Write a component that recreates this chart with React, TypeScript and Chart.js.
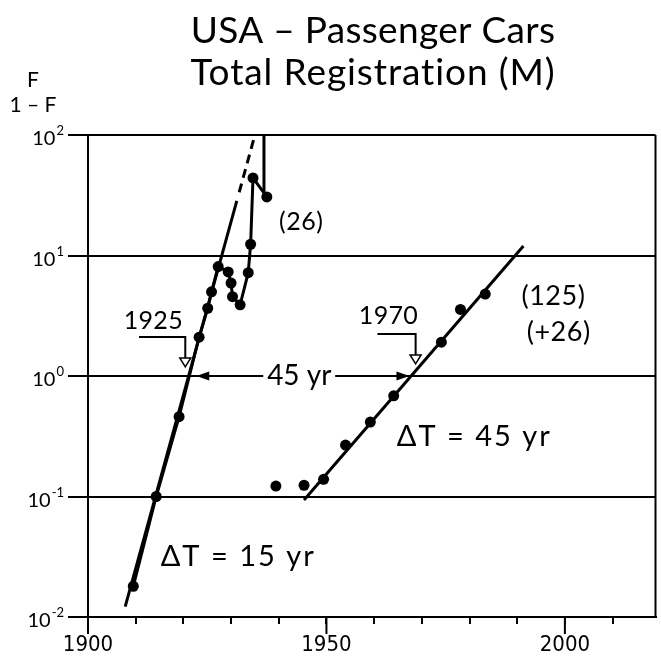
import React, { useEffect, useRef } from "react";
import { Chart, registerables } from "chart.js";

Chart.register(...registerables);

// ---------- data ----------
const titleLines = ["USA – Passenger Cars", "Total Registration (M)"];
const yTitleTop = "F";
const yTitleBottom = "1 – F";

// 1st pulse: F/(1-F) observations
const leftYears = [1909.5, 1914.3, 1919.1, 1923.3, 1925.1, 1925.9, 1927.3, 1929.4, 1930.0, 1930.3, 1931.9, 1933.6, 1934.1, 1934.6, 1937.5];
const leftRatio = [0.018, 0.1, 0.46, 2.1, 3.65, 5.0, 8.1, 7.3, 5.9, 4.55, 3.9, 7.2, 12.4, 44, 30.6];
// 2nd pulse observations
const rightYears = [1939.4, 1945.3, 1949.4, 1954.0, 1959.2, 1964.1, 1974.1, 1978.1, 1983.3];
const rightRatio = [0.122, 0.124, 0.139, 0.267, 0.415, 0.685, 1.91, 3.57, 4.79];

// fitted logistic lines
const fitLeftYears = [1907.8, 1931.2];
const fitLeftRatio = [0.0122, 28.4];
const fitLeftDashYears = [1931.7, 1935.0];
const fitLeftDashRatio = [33.5, 100];
const fitRightYears = [1945.3, 1991.3];
const fitRightRatio = [0.0935, 12.0];
// overshoot beyond saturation
const overshootYears = [1936.9, 1936.9];
const overshootRatio = [100, 33];

// axes
const xMin = 1900;
const xMax = 2019;
const xTickYears = [1900, 1910, 1920, 1930, 1940, 1950, 1960, 1970, 1980, 1990, 2000, 2010];
const xLabelYears = [1900, 1950, 2000];
const yTickValues = [0.01, 0.1, 1, 10, 100];
const yTickExponents = ["-2", "-1", "0", "1", "2"];

// annotations
const labelTexts = ["(26)", "1925", "1970", "(125)", "(+26)", "ΔT = 45 yr", "ΔT = 15 yr"];
const labelYears = [1944.7, 1913.7, 1963.0, 1997.6, 1998.7, 1981.0, 1931.5];
const labelRatios = [19.0, 2.86, 3.15, 4.61, 2.32, 0.312, 0.0315];
const labelSizes = [25, 25, 25, 27, 27, 29, 29];
const labelSpacing = [0.5, 0.3, 0.3, 0.5, 0.5, 2, 2];

const spanText = "45 yr";
const spanYears = [1922.7, 1967.4];
const spanTextYear = 1944.3;
const spanRatio = 1;

const bracketStartYears = [1910.7, 1960.7];
const bracketEndYears = [1920.4, 1968.7];
const bracketTopRatios = [2.11, 2.23];
const bracketTipRatios = [1.19, 1.26];

// ---------- helpers ----------
const SANS = "Lato, 'Open Sans', sans-serif";
const NARROW = "'Liberation Sans Narrow', 'DejaVu Sans Condensed', 'Liberation Sans', sans-serif";

const toPoints = (xs: number[], ys: number[]) => xs.map((x, i) => ({ x, y: ys[i] }));

const annotPlugin = {
  id: "annot",
  beforeDraw(chart: any) {
    const ctx = chart.ctx;
    ctx.save();
    ctx.fillStyle = "#fff";
    ctx.fillRect(0, 0, chart.width, chart.height);
    ctx.restore();
  },
  afterDatasetsDraw(chart: any) {
    const ctx: any = chart.ctx;
    const xs = chart.scales.x;
    const ys = chart.scales.y;
    const area = chart.chartArea;
    const px = (v: number) => xs.getPixelForValue(v);
    const py = (v: number) => ys.getPixelForValue(v);
    ctx.save();
    ctx.fillStyle = "#000";
    ctx.strokeStyle = "#000";

    // right border
    ctx.lineWidth = 2;
    ctx.beginPath();
    ctx.moveTo(area.right, area.top);
    ctx.lineTo(area.right, area.bottom);
    ctx.stroke();

    // long major x ticks
    xLabelYears.forEach((yr) => {
      const x = px(yr);
      ctx.beginPath();
      ctx.moveTo(x, area.bottom);
      ctx.lineTo(x, area.bottom + 17);
      ctx.stroke();
    });

    // y tick labels 10^n
    const labRight = ys.right - 24;
    ys.ticks.forEach((t: any, i: number) => {
      const y = py(t.value);
      const exp = yTickExponents[i];
      ctx.font = `13px ${SANS}`;
      const ew = ctx.measureText(exp).width;
      ctx.textBaseline = "middle";
      ctx.textAlign = "left";
      ctx.fillText(exp, labRight - ew, y - 4);
      ctx.font = `20px ${SANS}`;
      ctx.textAlign = "right";
      ctx.fillText("10", labRight - ew - 1, y + 4);
    });

    // y title F / 1-F
    ctx.textAlign = "center";
    ctx.textBaseline = "middle";
    ctx.font = `21px ${SANS}`;
    ctx.fillText(yTitleTop, 33, 80);
    ctx.fillText(yTitleBottom, 33, 105);

    // title
    ctx.font = `37px ${SANS}`;
    ctx.textBaseline = "alphabetic";
    ctx.letterSpacing = "0.3px";
    ctx.fillText(titleLines[0], 373, 43);
    ctx.letterSpacing = "0.9px";
    ctx.fillText(titleLines[1], 373, 85);

    // labels
    ctx.textBaseline = "middle";
    labelTexts.forEach((s, i) => {
      ctx.font = `${labelSizes[i]}px ${SANS}`;
      ctx.letterSpacing = `${labelSpacing[i]}px`;
      ctx.fillText(s, px(labelYears[i]), py(labelRatios[i]));
    });
    ctx.letterSpacing = "0px";

    // 45 yr span arrow
    const ay = py(spanRatio);
    const x1 = px(spanYears[0]);
    const x2 = px(spanYears[1]);
    ctx.font = `28px ${SANS}`;
    const tw = ctx.measureText(spanText).width;
    const tx = px(spanTextYear);
    ctx.fillStyle = "#fff";
    ctx.fillRect(tx - tw / 2 - 4, ay - 14, tw + 8, 28);
    ctx.fillStyle = "#000";
    ctx.lineWidth = 2;
    ctx.beginPath();
    ctx.moveTo(x1, ay);
    ctx.lineTo(tx - tw / 2 - 4, ay);
    ctx.moveTo(tx + tw / 2 + 4, ay);
    ctx.lineTo(x2, ay);
    ctx.stroke();
    ctx.fillText(spanText, tx, ay);
    const head = (tipX: number, dir: number) => {
      ctx.beginPath();
      ctx.moveTo(tipX, ay);
      ctx.lineTo(tipX + dir * 13, ay - 4.5);
      ctx.lineTo(tipX + dir * 13, ay + 4.5);
      ctx.closePath();
      ctx.fill();
    };
    head(x1, 1);
    head(x2, -1);

    // brackets with open triangles
    bracketStartYears.forEach((_, i) => {
      const bx1 = px(bracketStartYears[i]);
      const bx2 = px(bracketEndYears[i]);
      const by = py(bracketTopRatios[i]);
      const tip = py(bracketTipRatios[i]);
      ctx.lineWidth = 2;
      ctx.beginPath();
      ctx.moveTo(bx1, by);
      ctx.lineTo(bx2, by);
      ctx.lineTo(bx2, tip - 9);
      ctx.stroke();
      ctx.beginPath();
      ctx.moveTo(bx2 - 5.5, tip - 9);
      ctx.lineTo(bx2 + 5.5, tip - 9);
      ctx.lineTo(bx2, tip);
      ctx.closePath();
      ctx.fillStyle = "#fff";
      ctx.fill();
      ctx.lineWidth = 1.5;
      ctx.stroke();
      ctx.fillStyle = "#000";
    });

    ctx.restore();
  },
};

export default function App() {
  const ref = useRef<HTMLCanvasElement>(null);
  useEffect(() => {
    document.body.style.margin = "0";
    const lineDs = (data: any[], extra: any = {}) => ({
      data,
      showLine: true,
      borderColor: "#000",
      borderWidth: 3,
      pointRadius: 0,
      fill: false,
      ...extra,
    });
    const chart = new Chart(ref.current as HTMLCanvasElement, {
      type: "scatter",
      data: {
        datasets: [
          lineDs(toPoints(fitLeftYears, fitLeftRatio)),
          lineDs(toPoints(fitLeftDashYears, fitLeftDashRatio), { borderDash: [9, 6] }),
          lineDs(toPoints(fitRightYears, fitRightRatio)),
          lineDs(toPoints(overshootYears, overshootRatio)),
          {
            data: toPoints(leftYears, leftRatio),
            showLine: true,
            borderColor: "#000",
            borderWidth: 3,
            pointRadius: 5.5,
            pointBackgroundColor: "#000",
            pointBorderWidth: 0,
          },
          {
            data: toPoints(rightYears, rightRatio),
            showLine: false,
            pointRadius: 5.5,
            pointBackgroundColor: "#000",
            pointBorderWidth: 0,
          },
        ],
      },
      options: {
        responsive: false,
        animation: false,
        devicePixelRatio: 1,
        layout: { padding: { top: 135, right: 4, left: 0, bottom: 0 } },
        plugins: {
          legend: { display: false },
          tooltip: { enabled: false },
          title: { display: false },
        },
        events: [],
        scales: {
          x: {
            type: "linear",
            min: xMin,
            max: xMax,
            afterBuildTicks: (s: any) => {
              s.ticks = xTickYears.map((v) => ({ value: v }));
            },
            afterFit: (s: any) => {
              s.height = 45;
            },
            ticks: {
              autoSkip: false,
              maxRotation: 0,
              padding: 8,
              color: "#000",
              font: { family: NARROW, size: 22 },
              callback: (v: any) => (xLabelYears.includes(Number(v)) ? String(v) : ""),
            },
            grid: {
              drawOnChartArea: false,
              drawTicks: true,
              tickLength: 7,
              color: "#000",
              lineWidth: 2,
            },
            border: { display: true, color: "#000", width: 2 },
          },
          y: {
            type: "logarithmic",
            min: 0.01,
            max: 100,
            afterBuildTicks: (s: any) => {
              s.ticks = yTickValues.map((v) => ({ value: v }));
            },
            afterFit: (s: any) => {
              s.width = 88;
            },
            ticks: { display: false },
            grid: {
              color: "#000",
              lineWidth: 2,
              drawTicks: true,
              tickLength: 20,
            },
            border: { display: true, color: "#000", width: 2 },
          },
        },
      } as any,
      plugins: [annotPlugin],
    });
    return () => chart.destroy();
  }, []);
  return (
    <canvas
      ref={ref}
      width={661}
      height={662}
      style={{ display: "block", width: 661, height: 662 }}
    />
  );
}
